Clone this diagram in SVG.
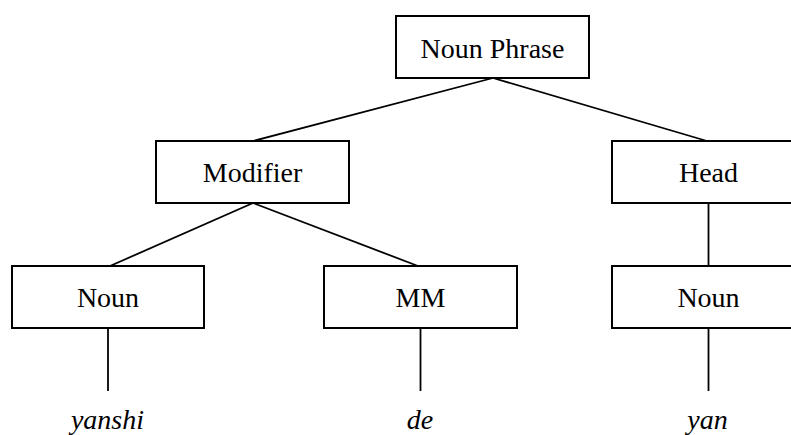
<svg xmlns="http://www.w3.org/2000/svg" width="791" height="435" viewBox="0 0 791 435">
  <style>
    .box { fill: #ffffff; stroke: #000000; stroke-width: 2; }
    .lbl { font-family: "Liberation Serif", "Times New Roman", serif; font-size: 28px; text-anchor: middle; fill: #000000; }
    .word { font-family: "Liberation Serif", "Times New Roman", serif; font-size: 28px; font-style: italic; text-anchor: middle; fill: #000000; }
    .edge { stroke: #000000; stroke-width: 1.8; fill: none; }
  </style>
  <rect width="791" height="435" fill="#ffffff"/>

  <!-- connectors -->
  <g id="connectors">
    <line class="edge" x1="493" y1="78" x2="253" y2="141"/>
    <line class="edge" x1="493" y1="78" x2="707" y2="141"/>
    <line class="edge" x1="253" y1="203" x2="110" y2="266"/>
    <line class="edge" x1="253" y1="203" x2="418" y2="266"/>
    <line class="edge" x1="708.5" y1="203" x2="708.5" y2="266"/>
    <line class="edge" x1="108" y1="328" x2="108" y2="391"/>
    <line class="edge" x1="420.5" y1="328" x2="420.5" y2="391"/>
    <line class="edge" x1="708.5" y1="328" x2="708.5" y2="391"/>
  </g>

  <g id="noun-phrase">
    <rect class="box" x="396" y="16" width="193" height="62"/>
    <text class="lbl" x="492.5" y="58">Noun Phrase</text>
  </g>
  <g id="modifier">
    <rect class="box" x="156" y="141" width="193" height="62"/>
    <text class="lbl" x="252.5" y="182">Modifier</text>
  </g>
  <g id="head">
    <rect class="box" x="612" y="141" width="193" height="62"/>
    <text class="lbl" x="708.5" y="182">Head</text>
  </g>
  <g id="noun-left">
    <rect class="box" x="12" y="266" width="192" height="62"/>
    <text class="lbl" x="108" y="307">Noun</text>
  </g>
  <g id="mm">
    <rect class="box" x="324" y="266" width="193" height="62"/>
    <text class="lbl" x="420.5" y="307">MM</text>
  </g>
  <g id="noun-right">
    <rect class="box" x="612" y="266" width="193" height="62"/>
    <text class="lbl" x="708.5" y="307">Noun</text>
  </g>

  <g id="words">
    <text class="word" x="107.5" y="429">yanshi</text>
    <text class="word" x="420" y="429">de</text>
    <text class="word" x="707.5" y="429">yan</text>
  </g>
</svg>
